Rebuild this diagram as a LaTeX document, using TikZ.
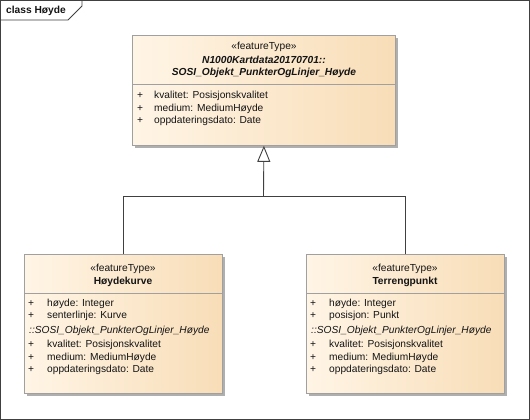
\documentclass[tikz,border=0pt]{standalone}
\usepackage{fontspec}
\setmainfont{Liberation Sans}
\usetikzlibrary{arrows.meta}
\definecolor{boxL}{RGB}{255,245,230}
\definecolor{boxR}{RGB}{248,221,183}
\definecolor{boxline}{RGB}{160,160,160}
\definecolor{shadowc}{RGB}{175,175,175}
\definecolor{conn}{RGB}{64,64,64}
\definecolor{txt}{RGB}{20,20,20}
\tikzset{
  umlbox/.style={draw=boxline, line width=0.8pt, left color=boxL, right color=boxR, anchor=north west, inner sep=0pt},
  shadowbox/.style={fill=shadowc, draw=none, anchor=north west, inner sep=0pt},
  txtc/.style={font=\fontsize{10.2}{12}\selectfont, text=txt, inner sep=0pt, anchor=center},
  txtl/.style={font=\fontsize{10.2}{12}\selectfont, text=txt, inner sep=0pt, anchor=west},
  txtb/.style={font=\fontsize{10.2}{12}\selectfont\bfseries, text=txt, inner sep=0pt, anchor=center},
  txtbi/.style={font=\fontsize{10.2}{12}\selectfont\bfseries\itshape, text=txt, inner sep=0pt, anchor=center},
  txti/.style={font=\fontsize{10.2}{12}\selectfont\itshape, text=txt, inner sep=0pt, anchor=west},
  sepline/.style={draw=boxline, line width=0.8pt},
  connector/.style={draw=conn, line width=0.9pt},
}
\begin{document}
\begin{tikzpicture}[x=1pt,y=-1pt]
\useasboundingbox (0,0) rectangle (530,420);
\fill[white] (0,0) rectangle (530,420);
% frame
\draw[conn, line width=0.8pt] (0.5,0.5) rectangle (529,419);
\draw[conn, line width=0.8pt] (0.5,20) -- (68,20) -- (82,6) -- (82,0.5);
\node[txtb, anchor=west] (title) at (6,10.5) {class Høyde};

% top box
\node[shadowbox, minimum width=263pt, minimum height=110pt] (topsh) at (135,38) {};
\node[umlbox, minimum width=263pt, minimum height=110pt] (top) at (132,35) {};
\draw[sepline] (132,84.5) -- (395,84.5);
\node[txtc] (t1) at (264,47) {«featureType»};
\node[txtbi] (t2) at (264,60) {N1000Kartdata20170701::};
\node[txtbi] (t3) at (264,73) {SOSI\_Objekt\_PunkterOgLinjer\_Høyde};
\node[txtl] (tp1) at (137,96) {+};
\node[txtl] (ta1) at (154,96) {kvalitet: Posisjonskvalitet};
\node[txtl] (tp2) at (137,108.5) {+};
\node[txtl] (ta2) at (154,108.5) {medium: MediumHøyde};
\node[txtl] (tp3) at (137,121) {+};
\node[txtl] (ta3) at (154,121) {oppdateringsdato: Date};

% left box
\node[shadowbox, minimum width=198pt, minimum height=139pt] (leftsh) at (27,257) {};
\node[umlbox, minimum width=198pt, minimum height=139pt] (left) at (24,254) {};
\draw[sepline] (24,293) -- (222,293);
\node[txtc] (l1) at (123,269) {«featureType»};
\node[txtb] (l2) at (123,282) {Høydekurve};
\node[txtl] (lp1) at (28,303.5) {+};
\node[txtl] (la1) at (47,303.5) {høyde: Integer};
\node[txtl] (lp2) at (28,316) {+};
\node[txtl] (la2) at (47,316) {senterlinje: Kurve};
\node[txti] (li) at (29,331) {::SOSI\_Objekt\_PunkterOgLinjer\_Høyde};
\node[txtl] (lp3) at (28,345) {+};
\node[txtl] (la3) at (47,345) {kvalitet: Posisjonskvalitet};
\node[txtl] (lp4) at (28,357.5) {+};
\node[txtl] (la4) at (47,357.5) {medium: MediumHøyde};
\node[txtl] (lp5) at (28,370) {+};
\node[txtl] (la5) at (47,370) {oppdateringsdato: Date};

% right box
\node[shadowbox, minimum width=198pt, minimum height=139pt] (rightsh) at (309,257) {};
\node[umlbox, minimum width=198pt, minimum height=139pt] (right) at (306,254) {};
\draw[sepline] (306,293) -- (504,293);
\node[txtc] (r1) at (405,269) {«featureType»};
\node[txtb] (r2) at (405,282) {Terrengpunkt};
\node[txtl] (rp1) at (310,303.5) {+};
\node[txtl] (ra1) at (329,303.5) {høyde: Integer};
\node[txtl] (rp2) at (310,316) {+};
\node[txtl] (ra2) at (329,316) {posisjon: Punkt};
\node[txti] (ri) at (311,331) {::SOSI\_Objekt\_PunkterOgLinjer\_Høyde};
\node[txtl] (rp3) at (310,345) {+};
\node[txtl] (ra3) at (329,345) {kvalitet: Posisjonskvalitet};
\node[txtl] (rp4) at (310,357.5) {+};
\node[txtl] (ra4) at (329,357.5) {medium: MediumHøyde};
\node[txtl] (rp5) at (310,370) {+};
\node[txtl] (ra5) at (329,370) {oppdateringsdato: Date};

% generalization
\coordinate (j) at (263.5,196);
\draw[connector] (left.north) |- (j);
\draw[connector] (right.north) |- (j);
\draw[connector, -{Triangle[open, fill=white, length=16pt, width=13pt]}] (j) -- (top.south);
\end{tikzpicture}
\end{document}
